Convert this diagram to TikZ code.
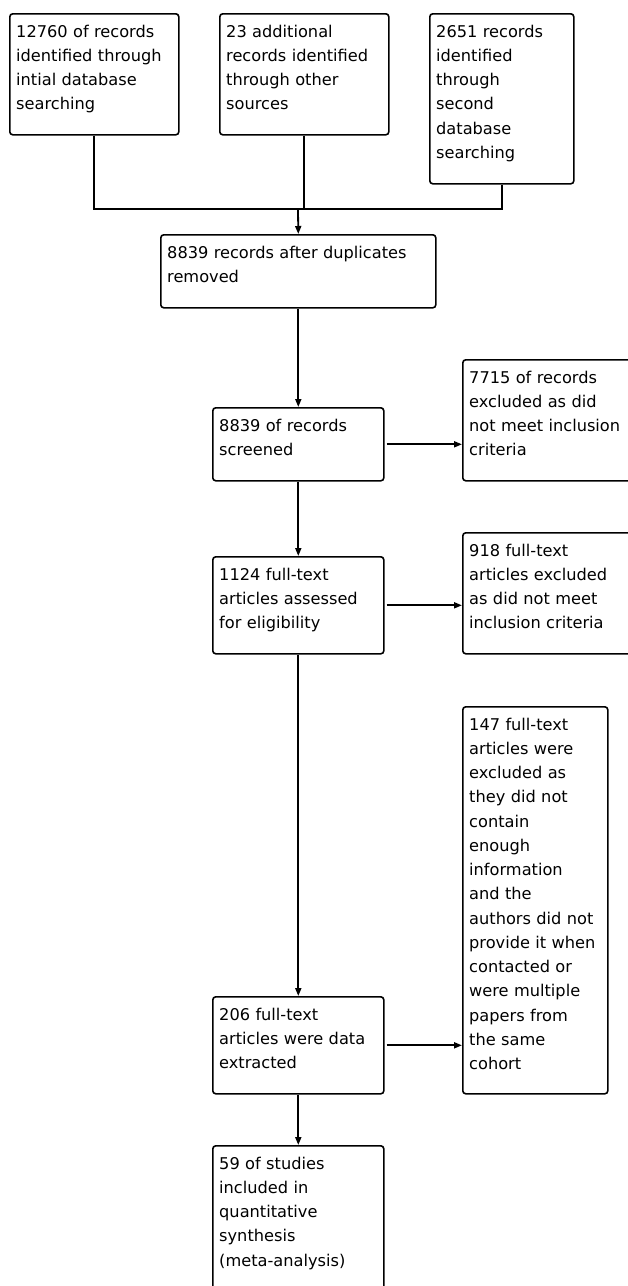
\documentclass[tikz,border=0pt]{standalone}
\usepackage{fontspec}
\setmainfont{DejaVu Sans}
\usetikzlibrary{arrows.meta,calc}
\tikzset{
  boxframe/.style={draw=black, line width=1.6pt, rounded corners=3pt, inner sep=0pt, anchor=north west, fill=white},
  boxtext/.style={inner sep=0pt, anchor=base west, text width=320pt, align=left, font=\fontsize{16.2}{24.25}\selectfont, text=black},
  ln/.style={draw=black, line width=1.8pt},
  arr/.style={ln, -{Triangle[length=8pt,width=6pt]}},
}
\newcommand{\flowbox}[6]{%
  \node[boxframe, minimum width={(#4-#2)*1pt}, minimum height={(#5-#3)*1pt}] (#1) at (#2,#3) {};
  \node[boxtext] (#1t) at (#2+7,#3+24) {#6};
}
\begin{document}
\begin{tikzpicture}[x=1pt,y=-1pt]
\useasboundingbox (0,0) rectangle (628,1286);
\clip (0,0) rectangle (628,1286);
\fill[white] (0,0) rectangle (628,1286);

\flowbox{b1}{9}{13}{178}{134}{12760 of records\\identified through\\intial database\\searching}
\flowbox{b2}{219}{13}{388}{134}{23 additional\\records identified\\through other\\sources}
\flowbox{b3}{429}{13}{573}{183}{2651 records\\identified\\through\\second\\database\\searching}
\flowbox{b4}{160}{234}{435}{307}{8839 records after duplicates\\removed}
\flowbox{s1}{212}{407}{383}{480}{8839 of records\\screened}
\flowbox{e1}{462}{359}{645}{480}{7715 of records\\excluded as did\\not meet inclusion\\criteria}
\flowbox{s2}{212}{556}{383}{653}{1124 full-text\\articles assessed\\for eligibility}
\flowbox{e2}{462}{532}{645}{653}{918 full-text\\articles excluded\\as did not meet\\inclusion criteria}
\flowbox{e3}{462}{706}{607}{1093}{147 full-text\\articles were\\excluded as\\they did not\\contain\\enough\\information\\and the\\authors did not\\provide it when\\contacted or\\were multiple\\papers from\\the same\\cohort}
\flowbox{s3}{212}{996}{383}{1093}{206 full-text\\articles were data\\extracted}
\flowbox{s4}{212}{1145}{383}{1310}{59 of studies\\included in\\quantitative\\synthesis\\(meta-analysis)}

\coordinate (m) at (298,209);
\draw[ln] (b1.south) |- (m);
\draw[ln] (b3.south) |- (m);
\draw[ln] (b2.south) -- (b2.south |- m);
\draw[arr] (m) -- (b4.north);
\draw[arr] (b4.south) -- (s1.north);
\draw[arr] (s1.south) -- (s2.north);
\draw[arr] (s2.south) -- (s3.north);
\draw[arr] (s3.south) -- (s4.north);
\draw[arr] ([xshift=2pt]s1.east) -- (s1.east -| e1.west);
\draw[arr] ([xshift=2pt]s2.east) -- (s2.east -| e2.west);
\draw[arr] ([xshift=2pt]s3.east) -- (s3.east -| e3.west);
\end{tikzpicture}
\end{document}
